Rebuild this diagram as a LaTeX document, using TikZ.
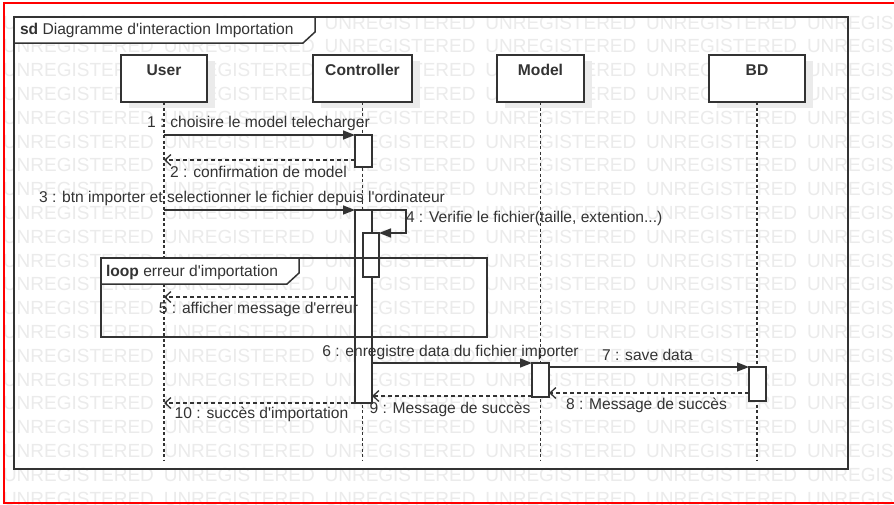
\documentclass[tikz,border=0pt]{standalone}
\usepackage{fontspec}
\setmainfont{Liberation Sans}
\usetikzlibrary{arrows.meta}
\definecolor{ink}{gray}{0.2}
\definecolor{wm}{gray}{0.92}
\begin{document}
\begin{tikzpicture}[x=1pt,y=-1pt,
  every node/.style={inner sep=0pt, outer sep=0pt, text=ink},
  txt/.style={font=\fontsize{15.6}{18}\selectfont, anchor=base},
  wmtext/.style={font=\fontsize{19}{22}\selectfont, text=wm, anchor=base west},
  frameline/.style={draw=ink, line width=1.5pt},
  headbox/.style={draw=ink, line width=1.5pt, fill=white, anchor=north west, minimum height=47pt},
  headtxt/.style={font=\bfseries\fontsize{15.6}{18}\selectfont, anchor=base},
  shadow/.style={fill=black!8},
  actbox/.style={draw=ink, line width=1.3pt, fill=white, anchor=north west, minimum width=17pt},
  lifeline/.style={draw=ink, line width=1.5pt, dash pattern=on 3pt off 2.5pt},
  msg/.style={draw=ink, line width=1.5pt, -{Triangle[length=12pt,width=9pt]}},
  ret/.style={draw=ink, line width=1.3pt, dash pattern=on 4pt off 3pt, -{Straight Barb[length=6pt,width=11pt]}},
]
\useasboundingbox (0,0) rectangle (894,504);
\fill[white] (0,0) rectangle (894,504);
% watermark
\begin{scope}
\clip (0,0) rectangle (894,504);
\foreach \k in {0,...,20}{
  \foreach \j in {0,...,5}{
    \node[wmtext] (wm-\k-\j) at ({3+160.8*\j},{29+23.8*\k}) {UNREGISTERED};
  }
}
\end{scope}
% outer red border (right side lies beyond the picture)
\draw[red, line width=2pt] (895,3) -- (4,3) -- (4,502.5) -- (895,502.5);
% sd frame
\draw[frameline] (14,17) rectangle (848,469);
\draw[frameline, fill=white] (14,17) -- (315,17) -- (315,32) -- (303,43) -- (14,43) -- cycle;
\node[txt, anchor=base west] (title) at (20,34) {\textbf{sd} Diagramme d\textquotesingle interaction Importation};
% lifeline heads
\fill[shadow] (129,61) rectangle (215,108);
\fill[shadow] (321,61) rectangle (420,108);
\fill[shadow] (505,61) rectangle (592,108);
\fill[shadow] (717,61) rectangle (813,108);
\node[headbox, minimum width=86pt] (user) at (121,55) {};
\node[headbox, minimum width=99pt] (ctrl) at (313,55) {};
\node[headbox, minimum width=87pt] (model) at (497,55) {};
\node[headbox, minimum width=96pt] (bd) at (709,55) {};
\node[headtxt] (userlbl) at (164,75) {User};
\node[headtxt] (ctrllbl) at (362.5,75) {Controller};
\node[headtxt] (modellbl) at (540.5,75) {Model};
\node[headtxt] (bdlbl) at (757,75) {BD};
% lifelines
\coordinate (lend) at (0,460);
\draw[lifeline] (user.south) -- (user.south |- lend);
\draw[lifeline] (ctrl.south) -- (ctrl.south |- lend);
\draw[lifeline] (model.south) -- (model.south |- lend);
\draw[lifeline] (bd.south) -- (bd.south |- lend);
% activations
\node[actbox, minimum height=32pt] (a1) at (355,135) {};
\node[actbox, minimum height=193pt] (a2) at (355,210) {};
\node[actbox, minimum height=44pt, minimum width=16pt] (a3) at (363,233) {};
\node[actbox, minimum height=34pt] (a4) at (532,363) {};
\node[actbox, minimum height=34pt] (a5) at (749,367) {};
% loop fragment
\draw[frameline] (101,258) rectangle (487,337);
\draw[frameline, fill=white] (101,258) -- (299,258) -- (299,273) -- (287,284) -- (101,284) -- cycle;
\node[txt, anchor=base west] (looplbl) at (106,276) {\textbf{loop} erreur d\textquotesingle importation};
% messages
\draw[msg] (user.south |- a1.north west) -- (a1.north west);
\coordinate (m2s) at (355,160);
\draw[ret] (m2s) -- (user.south |- m2s);
\draw[msg] (user.south |- a2.north west) -- (a2.north west);
\coordinate (self4) at (406,233);
\draw[msg] (a2.north east) -| (self4) -- (a3.north east);
\coordinate (m5s) at (355,297);
\draw[ret] (m5s) -- (user.south |- m5s);
\draw[msg] (a2.east |- a4.north west) -- (a4.north west);
\draw[msg] (a4.east |- a5.north west) -- (a5.north west);
\coordinate (m8s) at (749,393);
\draw[ret] (m8s) -- (a4.east |- m8s);
\coordinate (m9s) at (532,396);
\draw[ret] (m9s) -- (a2.east |- m9s);
\draw[ret] (a2.south west) -- (user.south |- a2.south west);
% labels
\node[txt] (l1) at (258.5,127) {1 : choisire le model telecharger};
\node[txt] (l2) at (258.5,177) {2 : confirmation de model};
\node[txt] (l3) at (242,202) {3 : btn importer et selectionner le fichier depuis l\textquotesingle ordinateur};
\node[txt, anchor=base west] (l4) at (406,222) {4 : Verifie le fichier(taille, extention...)};
\node[txt] (l5) at (258.5,313) {5 : afficher message d\textquotesingle erreur};
\node[txt] (l6) at (450.5,356) {6 : enregistre data du fichier importer};
\node[txt] (l7) at (647.5,360) {7 : save data};
\node[txt] (l8) at (646.5,409) {8 : Message de succès};
\node[txt] (l9) at (450,413) {9 : Message de succès};
\node[txt] (l10) at (261.5,418) {10 : succès d\textquotesingle importation};
\end{tikzpicture}
\end{document}
